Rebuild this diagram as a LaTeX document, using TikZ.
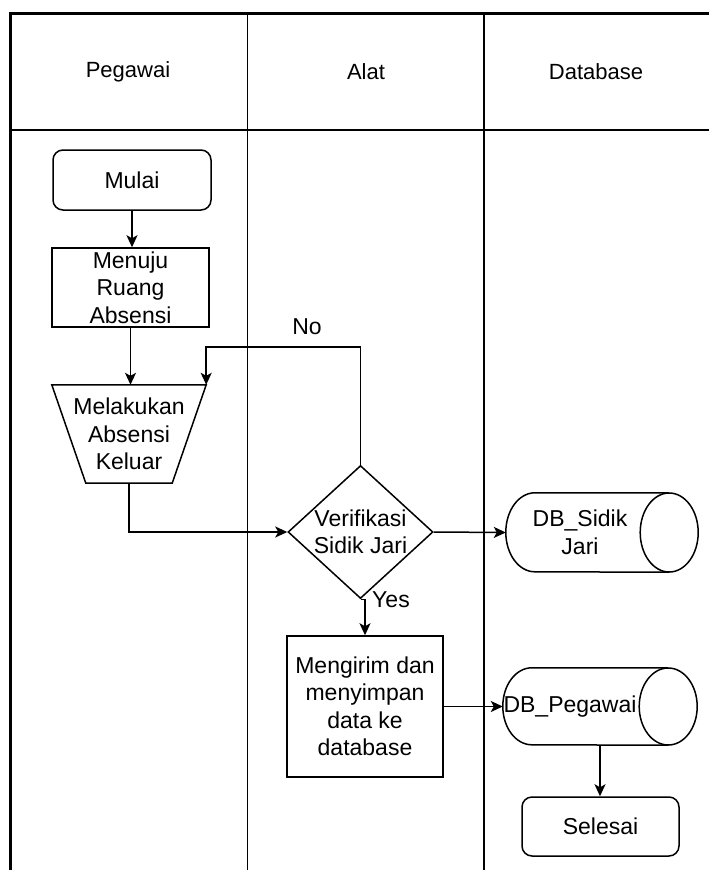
\documentclass[tikz,border=0pt]{standalone}
\usepackage{fontspec}
\setmainfont{Liberation Sans}
\usetikzlibrary{arrows.meta,calc,shapes.geometric}
\newcommand\drawcylinder[3]{%
  \draw[shapeline] ($(#1.north east)+(-#2,0)$) -- ($(#1.north west)+(#2,0)$)
     arc[start angle=90,end angle=270,x radius=#2pt,y radius=#3pt]
     -- ($(#1.south east)+(-#2,0)$);
  \draw[shapeline] ($(#1.east)+(-#2,0)$) ellipse[x radius=#2pt,y radius=#3pt];
}
\begin{document}
\begin{tikzpicture}[x=1pt,y=-1pt,
  every node/.style={font=\fontsize{23}{27.5}\selectfont, align=center, inner sep=0pt},
  hdr/.style={font=\fontsize{22}{26}\selectfont},
  shapeline/.style={line width=1.5pt},
  lane/.style={line width=1.8pt},
  frameline/.style={line width=3pt},
  proc/.style={draw, rectangle, line width=1.5pt},
  term/.style={draw, rectangle, rounded corners=10pt, line width=1.5pt},
  ghost/.style={rectangle},
  arr/.style={line width=1.5pt, -{Stealth[length=12pt,width=11pt,inset=3pt]}},
]
\useasboundingbox (0,0) rectangle (709,870);
% swimlanes
\draw[lane] (10,130) -- (712,130);
\draw[lane] (247.5,13) -- (247.5,872);
\draw[lane] (484,13) -- (484,872);
\draw[frameline] (10,872) -- (10,13) -- (712,13);
\node[hdr] (h1) at (128,72) {Pegawai};
\node[hdr] (h2) at (366,72) {Alat};
\node[hdr] (h3) at (596,72) {Database};
% nodes
\node[term, minimum width=158pt, minimum height=60pt] (mulai) at (132,180) {Mulai};
\node[proc, minimum width=157pt, minimum height=79pt] (menuju) at (130.5,287.5) {Menuju\\Ruang\\Absensi};
\node[ghost, minimum width=154pt, minimum height=98pt] (trap) at (129,434) {Melakukan\\Absensi\\Keluar};
\draw[shapeline] (trap.north west) -- (trap.north east) -- ($(trap.south east)+(-34,0)$) -- ($(trap.south west)+(34,0)$) -- cycle;
\node[diamond, draw, line width=1.5pt, minimum width=145pt, minimum height=133pt] (dia) at (360.5,532) {};
\node (diat) at (dia.center) {Verifikasi\\Sidik Jari};
\node[ghost, minimum width=192pt, minimum height=79pt] (dbs) at (602,532.5) {};
\drawcylinder{dbs}{29}{39.5}
\node (dbst) at (580,532.5) {DB\_Sidik\\Jari};
\node[proc, minimum width=156pt, minimum height=141pt] (mk) at (365,706.5) {Mengirim dan\\menyimpan\\data ke\\database};
\node[ghost, minimum width=194pt, minimum height=77pt] (dbp) at (600,706.5) {};
\drawcylinder{dbp}{29}{38.5}
\node (dbpt) at (570,706.5) {DB\_Pegawai};
\node[term, minimum width=157pt, minimum height=59pt] (sel) at (600.5,826.5) {Selesai};
% connectors
\draw[arr] (mulai.south) -- (mulai.south |- menuju.north);
\draw[arr] (menuju.south) -- (menuju.south |- trap.north);
\coordinate (nobend) at (trap.north east |- 0,347);
\draw[arr] (dia.north) |- (nobend) -- (trap.north east);
\node (no) at (307,327) {No};
\draw[arr] (trap.south) |- (dia.west);
\draw[arr] (dia.east) -- (dbs.west);
\draw[arr] (dia.south) -| (mk.north);
\node (yes) at (391,600) {Yes};
\draw[arr] (mk.east) -- (dbp.west);
\draw[arr] (dbp.south) -- (dbp.south |- sel.north);
\end{tikzpicture}
\end{document}
